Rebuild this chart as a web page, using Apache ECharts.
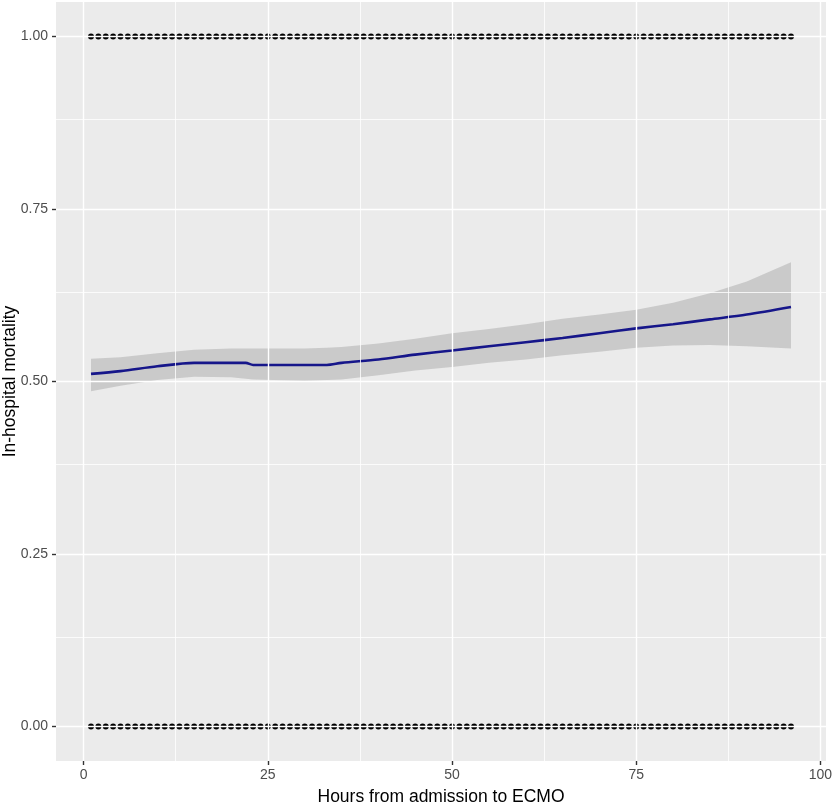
<!DOCTYPE html>
<html>
<head>
<meta charset="utf-8">
<script src="https://cdn.jsdelivr.net/npm/echarts@6/dist/echarts.min.js"></script>
<style>html,body{margin:0;padding:0;background:#fff;}#c{width:834px;height:808px;}</style>
</head>
<body>
<div id="c"></div>
<script>
// Observed hours (dots at every hour from 1 to 96)
const hours = [1,2,3,4,5,6,7,8,9,10,11,12,13,14,15,16,17,18,19,20,21,22,23,24,25,26,27,28,29,30,31,32,33,34,35,36,37,38,39,40,41,42,43,44,45,46,47,48,49,50,51,52,53,54,55,56,57,58,59,60,61,62,63,64,65,66,67,68,69,70,71,72,73,74,75,76,77,78,79,80,81,82,83,84,85,86,87,88,89,90,91,92,93,94,95,96];
// Smoothed fit (x positions and values)
const fitX     = [1, 5, 10, 15, 20, 22, 23, 30, 33, 35, 40, 45, 50, 55, 60, 65, 70, 75, 80, 85, 90, 96];
const fitY     = [0.511,0.515,0.522,0.527,0.527,0.527,0.524,0.524,0.524,0.527,0.532,0.539,0.545,0.551,0.557,0.563,0.570,0.577,0.583,0.590,0.597,0.608];
const bandLow  = [0.486,0.494,0.502,0.507,0.506,0.504,0.503,0.501,0.502,0.503,0.509,0.516,0.521,0.527,0.532,0.538,0.543,0.549,0.552,0.553,0.551,0.548];
const bandHigh = [0.533,0.535,0.541,0.546,0.548,0.548,0.548,0.548,0.549,0.550,0.555,0.562,0.570,0.576,0.583,0.591,0.597,0.604,0.614,0.628,0.645,0.673];
const xTicks = [0, 25, 50, 75, 100];
const xMinor = [12.5, 37.5, 62.5, 87.5];
const yTicks = [0, 0.25, 0.5, 0.75, 1];
const yMinor = [0.125, 0.375, 0.625, 0.875];

const chart = echarts.init(document.getElementById('c'), null, {renderer: 'canvas'});
const font = 'Liberation Sans, Arial, sans-serif';

const gridLines = [];
xTicks.forEach(v => gridLines.push({xAxis: v, lineStyle: {width: 1.4}}));
xMinor.forEach(v => gridLines.push({xAxis: v, lineStyle: {width: 0.8}}));
yTicks.forEach(v => gridLines.push({yAxis: v, lineStyle: {width: 1.4}}));
yMinor.forEach(v => gridLines.push({yAxis: v, lineStyle: {width: 0.8}}));

function renderBand(params, api) {
  if (params.dataIndex !== 0) return null;
  const pts = [];
  for (let i = 0; i < fitX.length; i++) pts.push(api.coord([fitX[i], bandHigh[i]]));
  for (let i = fitX.length - 1; i >= 0; i--) pts.push(api.coord([fitX[i], bandLow[i]]));
  return {
    type: 'polygon',
    shape: {points: pts, smooth: 0},
    style: {fill: 'rgba(153,153,153,0.4)', stroke: null}
  };
}

const tickStyle = {show: true, length: 4, lineStyle: {color: '#333333', width: 1.4, opacity: 1}};

chart.setOption({
  animation: false,
  backgroundColor: '#ffffff',
  grid: {left: 56, right: 8, top: 2, bottom: 47, show: true, backgroundColor: '#ebebeb', borderWidth: 0,
    containLabel: false, outerBoundsMode: 'none'},
  xAxis: {
    type: 'value', min: -3.75, max: 100.75,
    name: 'Hours from admission to ECMO', nameLocation: 'middle', nameGap: 27, nameMoveOverlap: false,
    nameTextStyle: {fontFamily: font, fontSize: 17.5, color: '#000'},
    axisLine: {show: true, onZero: false, lineStyle: {color: 'rgba(0,0,0,0)', width: 0}},
    axisTick: Object.assign({customValues: xTicks}, tickStyle),
    axisLabel: {customValues: xTicks, fontFamily: font, fontSize: 14, color: '#4d4d4d', margin: 7},
    splitLine: {show: false}
  },
  yAxis: {
    type: 'value', min: -0.05, max: 1.05,
    name: 'In-hospital mortality', nameLocation: 'middle', nameGap: 37, nameRotate: 90, nameMoveOverlap: false,
    nameTextStyle: {fontFamily: font, fontSize: 17.5, color: '#000'},
    axisLine: {show: true, onZero: false, lineStyle: {color: 'rgba(0,0,0,0)', width: 0}},
    axisTick: Object.assign({customValues: yTicks}, tickStyle),
    axisLabel: {customValues: yTicks, fontFamily: font, fontSize: 14, color: '#4d4d4d', margin: 8,
      formatter: v => v.toFixed(2)},
    splitLine: {show: false}
  },
  series: [
    {
      type: 'scatter', data: [], z: 1, silent: true,
      markLine: {silent: true, symbol: ['none', 'none'], label: {show: false},
        lineStyle: {color: '#ffffff', type: 'solid'}, data: gridLines, animation: false}
    },
    {
      type: 'custom', name: 'band', z: 2, silent: true, clip: true,
      renderItem: renderBand,
      data: fitX.map((x, i) => [x, bandLow[i], bandHigh[i]]),
      encode: {x: 0, y: [1, 2]}
    },
    {
      type: 'line', name: 'fit', z: 3, symbol: 'none', smooth: 0.3, silent: true,
      data: fitX.map((x, i) => [x, fitY[i]]),
      lineStyle: {color: '#16168a', width: 2.6}
    },
    {
      type: 'scatter', name: 'died', z: 4, symbol: 'circle', symbolSize: 6, silent: true,
      itemStyle: {color: '#000', opacity: 1},
      data: hours.map(h => [h, 1])
    },
    {
      type: 'scatter', name: 'survived', z: 4, symbol: 'circle', symbolSize: 6, silent: true,
      itemStyle: {color: '#000', opacity: 1},
      data: hours.map(h => [h, 0])
    }
  ]
});
</script>
</body>
</html>
